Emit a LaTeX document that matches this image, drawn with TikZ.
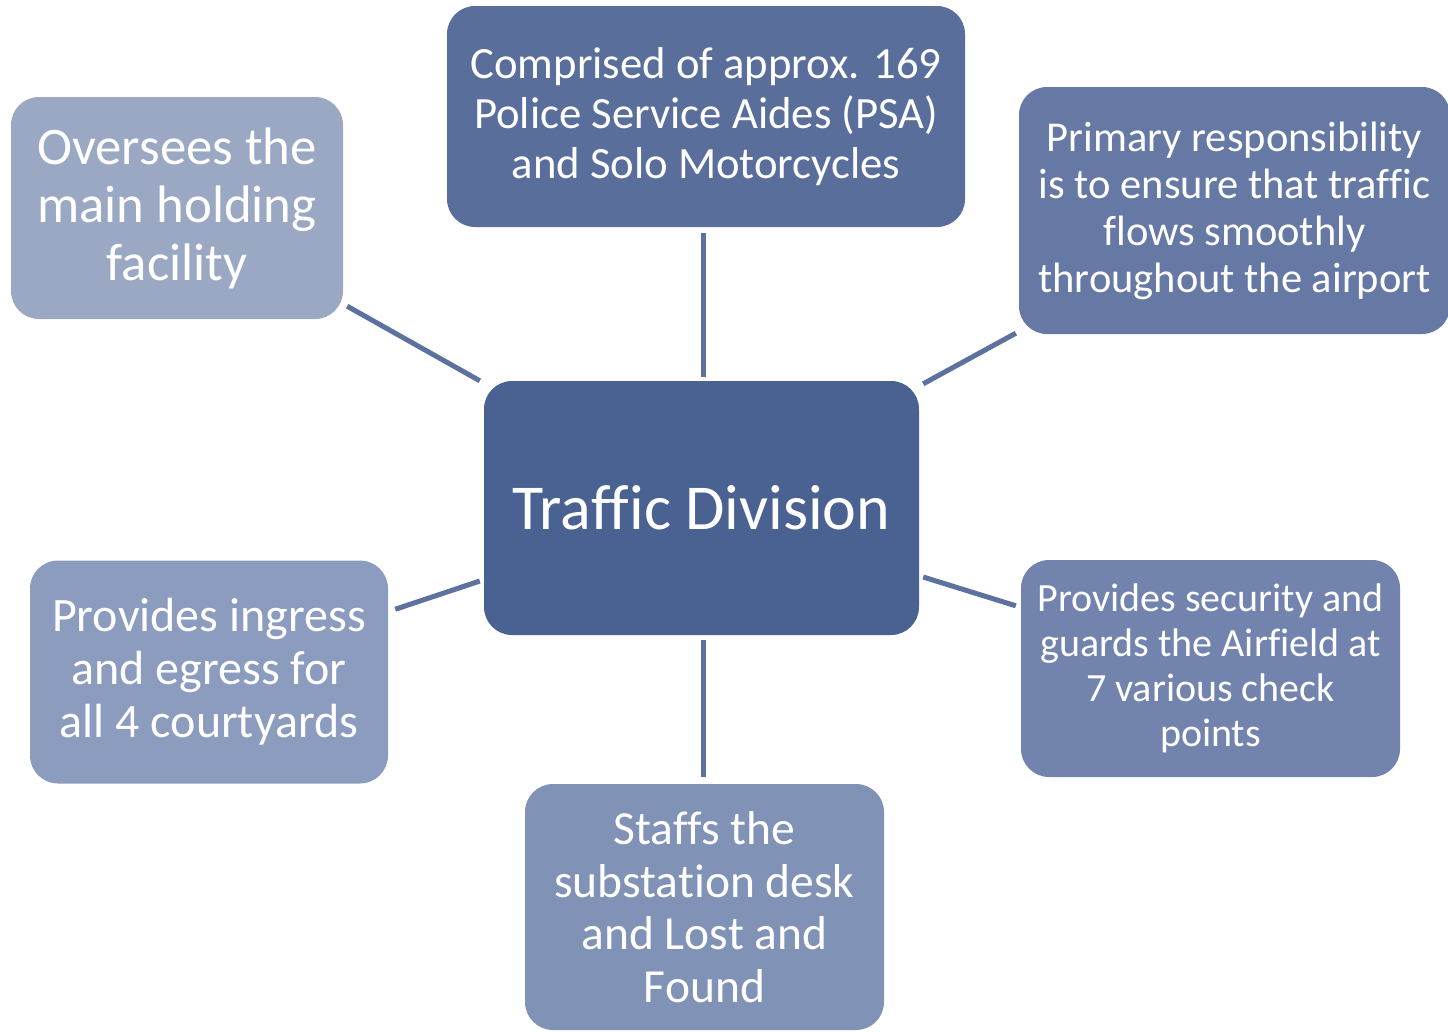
\documentclass[tikz,border=0pt]{standalone}
\usepackage{fontspec}
\setmainfont[Ligatures=NoCommon]{Carlito}
\usetikzlibrary{calc}
\definecolor{cc}{HTML}{4A6291}
\definecolor{ctop}{HTML}{5A6E9C}
\definecolor{ctl}{HTML}{9AA8C4}
\definecolor{ctr}{HTML}{6679A5}
\definecolor{cr}{HTML}{7284AE}
\definecolor{cb}{HTML}{8192B7}
\definecolor{cl}{HTML}{8C9CBF}
\definecolor{linec}{HTML}{5D71A0}
\begin{document}
\begin{tikzpicture}[x=1pt,y=-1pt,
  box/.style={rounded corners=28pt, text=white, align=center, inner sep=0pt},
  link/.style={draw=linec, line width=5pt}]
\useasboundingbox (0,0) rectangle (1448,1031);
\fill[white] (0,0) rectangle (1448,1031);
\node[box, fill=cc, minimum width=435pt, minimum height=254pt,
  font=\fontsize{64}{72}\selectfont] (c) at (701.5,508) {Traffic Division};
\node[box, fill=ctop, minimum width=518pt, minimum height=221pt,
  font=\fontsize{44.7}{50}\selectfont] (top) at (706,116.5)
  {Comprised of approx. 169\\Police Service Aides (PSA)\\and Solo Motorcycles};
\node[box, fill=ctl, minimum width=332pt, minimum height=222pt,
  font=\fontsize{52.8}{58}\selectfont] (tl) at (177,208)
  {Oversees the\\main holding\\facility};
\node[box, fill=ctr, minimum width=431pt, minimum height=247pt,
  font=\fontsize{42.5}{47}\selectfont] (tr) at (1234.5,210.5)
  {Primary responsibility\\is to ensure that traffic\\flows smoothly\\throughout the airport};
\node[box, fill=cr, minimum width=379pt, minimum height=217pt,
  font=\fontsize{40}{45}\selectfont] (r) at (1210.5,668.5)
  {Provides security and\\guards the Airfield at\\7 various check\\points};
\node[box, fill=cb, minimum width=359pt, minimum height=246pt,
  font=\fontsize{47.5}{52.5}\selectfont] (b) at (704.5,907)
  {Staffs the\\substation desk\\and Lost and\\Found};
\node[box, fill=cl, minimum width=358pt, minimum height=223pt,
  font=\fontsize{48}{53}\selectfont] (l) at (209,672)
  {Provides ingress\\and egress for\\all 4 courtyards};
\draw[link] ($(c.north |- top.south)+(1.5,6)$) -- ($(c.north)+(1.5,-4)$);
\draw[link] ($(tl.south east)+(4,-13)$) -- ($(c.north west)+(-4,0)$);
\draw[link] ($(tr.south west)+(-3,-1)$) -- ($(c.north east)+(4,3)$);
\draw[link] ($(c.east)+(4,69)$) -- ($(r.north west)+(-5,46)$);
\draw[link] ($(c.south)+(1.5,5)$) -- ($(b.north)+(-1.5,-7)$);
\draw[link] ($(c.west)+(-4,73)$) -- ($(l.north east)+(7,49)$);
\end{tikzpicture}
\end{document}
